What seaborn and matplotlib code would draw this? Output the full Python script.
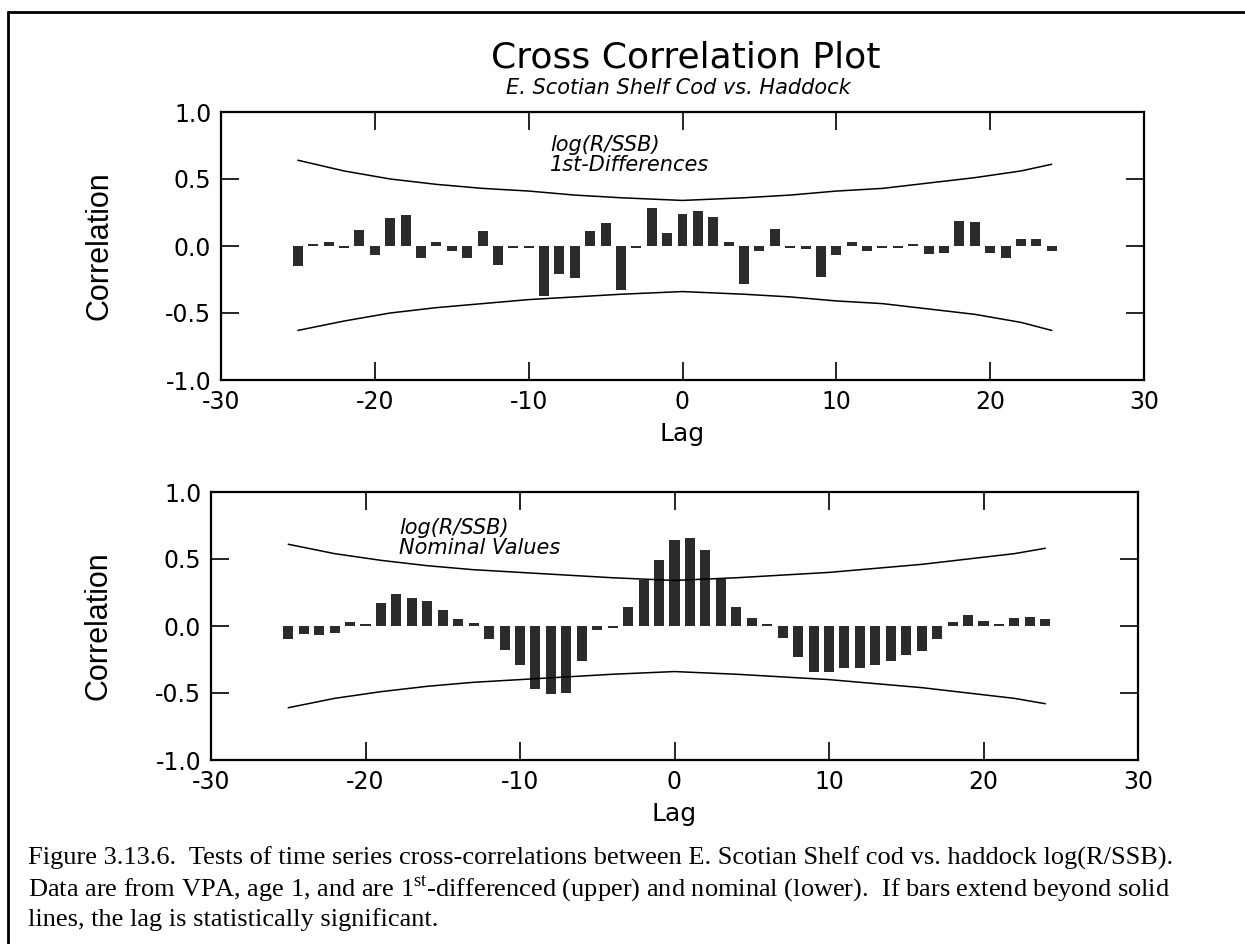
import seaborn as sns
import matplotlib.pyplot as plt
from matplotlib.lines import Line2D
import numpy as np

# lags shown in both panels
lags = list(range(-25, 25))

# upper panel: log(R/SSB) 1st-differences
diff_corr = [-0.15, 0.015, 0.03, -0.015, 0.12, -0.07, 0.21, 0.23, -0.09, 0.03,
             -0.04, -0.09, 0.11, -0.14, -0.015, -0.015, -0.37, -0.21, -0.24, 0.11,
             0.17, -0.33, -0.015, 0.28, 0.10, 0.24, 0.26, 0.22, 0.03, -0.28,
             -0.04, 0.13, -0.015, -0.02, -0.23, -0.07, 0.03, -0.04, -0.015, -0.015,
             0.015, -0.06, -0.05, 0.19, 0.18, -0.05, -0.09, 0.05, 0.05, -0.04]

# lower panel: log(R/SSB) nominal values
nom_corr = [-0.10, -0.06, -0.07, -0.05, 0.03, 0.015, 0.17, 0.24, 0.21, 0.19,
            0.12, 0.05, 0.02, -0.10, -0.18, -0.29, -0.47, -0.51, -0.50, -0.26,
            -0.03, -0.015, 0.14, 0.34, 0.49, 0.64, 0.66, 0.57, 0.35, 0.14,
            0.06, 0.015, -0.09, -0.23, -0.34, -0.34, -0.31, -0.31, -0.29, -0.26,
            -0.22, -0.19, -0.10, 0.03, 0.08, 0.04, 0.015, 0.06, 0.07, 0.05]

# significance limits
band_lags = [-25, -22, -19, -16, -13, -10, -7, -4, -2, 0, 2, 4, 7, 10, 13, 16, 19, 22, 24]
diff_upper = [0.64, 0.56, 0.50, 0.46, 0.43, 0.41, 0.38, 0.36, 0.35, 0.34,
              0.35, 0.36, 0.38, 0.41, 0.43, 0.47, 0.51, 0.56, 0.61]
diff_lower = [-0.63, -0.56, -0.50, -0.46, -0.43, -0.40, -0.38, -0.36, -0.35, -0.34,
              -0.35, -0.36, -0.38, -0.41, -0.43, -0.47, -0.51, -0.57, -0.63]
nom_upper = [0.61, 0.54, 0.49, 0.45, 0.42, 0.40, 0.38, 0.36, 0.35, 0.34,
             0.35, 0.36, 0.38, 0.40, 0.43, 0.46, 0.50, 0.54, 0.58]
nom_lower = [-0.61, -0.54, -0.49, -0.45, -0.42, -0.40, -0.38, -0.36, -0.35, -0.34,
             -0.35, -0.36, -0.38, -0.40, -0.43, -0.46, -0.50, -0.54, -0.58]

sns.set_style("ticks")
plt.rcParams['font.family'] = ['DejaVu Sans']
plt.rcParams['text.color'] = 'black'
plt.rcParams['axes.labelcolor'] = 'black'
plt.rcParams['axes.unicode_minus'] = False
plt.rcParams['mathtext.fontset'] = 'custom'
plt.rcParams['mathtext.rm'] = 'Liberation Serif'

W, H = 1245, 944
fig = plt.figure(figsize=(W / 100, H / 100), dpi=100)
ax1 = fig.add_axes([221 / W, 1 - 380 / H, 923 / W, 268 / H])
ax2 = fig.add_axes([211 / W, 1 - 760 / H, 927 / W, 268 / H])

bar_color = "#2b2b2b"
panels = [
    (ax1, diff_corr, diff_upper, diff_lower, "log(R/SSB)\n1st-Differences", -8.6, 0.68, -0.115),
    (ax2, nom_corr, nom_upper, nom_lower, "log(R/SSB)\nNominal Values", -17.8, 0.655, -0.105),
]

for ax, vals, up, lo, note, nx, ny, ylx in panels:
    sns.barplot(x=lags, y=vals, native_scale=True, width=0.65, color=bar_color,
                saturation=1, linewidth=0, errorbar=None, ax=ax)
    sns.lineplot(x=band_lags, y=up, color="black", linewidth=1.1, ax=ax)
    sns.lineplot(x=band_lags, y=lo, color="black", linewidth=1.1, ax=ax)
    ax.set_xlim(-30, 30)
    ax.set_ylim(-1.0, 1.0)
    ax.set_xticks(np.arange(-30, 31, 10))
    ax.set_yticks([-1.0, -0.5, 0.0, 0.5, 1.0])
    ax.set_yticklabels(["-1.0", "-0.5", "0.0", "0.5", "1.0"])
    ax.tick_params(direction="in", length=13, width=1.2, labelsize=17,
                   top=True, right=True, pad=7, color="black", labelcolor="black")
    for s in ax.spines.values():
        s.set_linewidth(1.6)
        s.set_color("black")
        s.set_visible(True)
    ax.set_xlabel("Lag", fontsize=18)
    ax.xaxis.set_label_coords(0.5, -0.155)
    ax.set_ylabel("Correlation", fontsize=22,
                  family=["Liberation Sans Narrow", "Liberation Sans"])
    ax.yaxis.set_label_coords(ylx, 0.5)
    ax.text(nx, ny, note, fontsize=15, style="italic", ha="left", va="center",
            linespacing=1.0)

fig.text(686 / W, 1 - 58 / H, "Cross Correlation Plot", fontsize=26,
         ha="center", va="center")
fig.text(678 / W, 1 - 88 / H, "E. Scotian Shelf Cod vs. Haddock", fontsize=15,
         style="italic", ha="center", va="center")

# page frame (top and left edges visible)
fig.add_artist(Line2D([8 / W, 1.0], [1 - 12 / H, 1 - 12 / H], color="black",
                      linewidth=2, transform=fig.transFigure))
fig.add_artist(Line2D([8 / W, 8 / W], [0.0, 1 - 12 / H], color="black",
                      linewidth=2, transform=fig.transFigure))

caption = [
    "Figure 3.13.6.  Tests of time series cross-correlations between E. Scotian Shelf cod vs. haddock log(R/SSB).",
    "Data are from VPA, age 1, and are 1$^{\\mathrm{st}}$-differenced (upper) and nominal (lower).  If bars extend beyond solid",
    "lines, the lag is statistically significant.",
]
for i, line in enumerate(caption):
    fig.text(28 / W, 1 - (858 + 31 * i) / H, line, fontsize=19,
             family="Liberation Serif", ha="left", va="center")

fig.savefig("out.png", dpi=100)
